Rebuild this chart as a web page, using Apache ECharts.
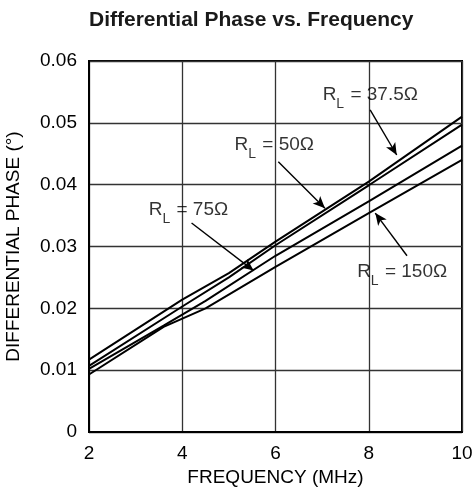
<!DOCTYPE html>
<html>
<head>
<meta charset="utf-8">
<script src="https://cdn.jsdelivr.net/npm/echarts@6/dist/echarts.min.js"></script>
<style>html,body{margin:0;padding:0;background:#fff;}#c{width:472px;height:496px;}</style>
</head>
<body>
<div id="c"></div>
<script>
// ---- data ----
const xTicks = [2, 4, 6, 8, 10];
const yTicks = [0, 0.01, 0.02, 0.03, 0.04, 0.05, 0.06];
const rl375 = [[2,0.0117],[4,0.0214],[5,0.0257],[6,0.0308],[8,0.0405],[10,0.0510]];
const rl50  = [[2,0.0107],[4,0.0203],[5,0.0250],[6,0.0302],[8,0.0399],[10,0.0497]];
const rl75  = [[2,0.0102],[3.6,0.0172],[4.5,0.0212],[6,0.0285],[8,0.0373],[10,0.0463]];
const rl150 = [[2,0.0093],[3.6,0.0170],[4.5,0.0200],[6,0.0267],[8,0.0354],[10,0.0440]];
const labelText = ['37.5Ω', '50Ω', '75Ω', '150Ω'];
const labelPos  = [[7.0,0.0545],[5.11,0.0464],[3.27,0.0359],[7.74,0.0259]];
const arrowFrom = [[8.03,0.0521],[6.06,0.0437],[4.20,0.0338],[8.82,0.0285]];
const arrowTo   = [[8.60,0.0448],[7.06,0.0362],[5.53,0.0261],[8.14,0.0354]];

const FONT = '"Liberation Sans", Arial, sans-serif';
const chart = echarts.init(document.getElementById('c'));

function lineSeries(name, data) {
  return {
    name: name, type: 'line', data: data, symbol: 'none', smooth: false,
    lineStyle: { color: '#000', width: 2 }, silent: true, z: 3
  };
}

chart.setOption({
  animation: false,
  backgroundColor: '#fff',
  title: {
    text: 'Differential Phase vs. Frequency',
    left: 89, top: 10, padding: 0,
    textStyle: { fontFamily: FONT, fontSize: 21, fontWeight: 'bold', color: '#1a1a1a' }
  },
  grid: {
    left: 89, right: 10, top: 61, bottom: 64,
    outerBoundsMode: 'none', containLabel: false,
    show: true, borderColor: '#000', borderWidth: 2, backgroundColor: 'transparent'
  },
  xAxis: {
    type: 'value', min: 2, max: 10, interval: 2,
    name: 'FREQUENCY (MHz)', nameLocation: 'middle', nameGap: 36,
    nameTextStyle: { fontFamily: FONT, fontSize: 19, color: '#000' },
    axisLine: { show: true, lineStyle: { color: '#000', width: 2 } },
    axisTick: { show: false },
    axisLabel: { margin: 12, fontFamily: FONT, fontSize: 19, color: '#000',
      formatter: v => xTicks.indexOf(v) >= 0 ? String(v) : '' },
    splitLine: { show: true, lineStyle: { color: '#333', width: 1.3 } }
  },
  yAxis: {
    type: 'value', min: 0, max: 0.06, interval: 0.01,
    name: 'DIFFERENTIAL PHASE (°)', nameLocation: 'middle', nameGap: 66,
    nameTextStyle: { fontFamily: FONT, fontSize: 19, color: '#000' },
    axisLine: { show: true, lineStyle: { color: '#000', width: 2 } },
    axisTick: { show: false },
    axisLabel: { margin: 12, fontFamily: FONT, fontSize: 19, color: '#000',
      formatter: v => {
        const t = yTicks.find(y => Math.abs(y - v) < 1e-9);
        if (t === undefined) return '';
        return t === 0 ? '0' : t.toFixed(2);
      } },
    splitLine: { show: true, lineStyle: { color: '#333', width: 1.3 } }
  },
  series: [
    lineSeries('RL=37.5', rl375),
    lineSeries('RL=50', rl50),
    lineSeries('RL=75', rl75),
    lineSeries('RL=150', rl150),
    {
      type: 'scatter', name: 'labels', silent: true, z: 5,
      symbolSize: 1, itemStyle: { color: 'rgba(0,0,0,0)' },
      data: labelPos.map((p, i) => [p[0], p[1], i]),
      label: {
        show: true, position: 'right', distance: 0,
        formatter: p => '{r|R}{s|L}{r| = ' + labelText[p.data[2]] + '}',
        rich: {
          r: { fontFamily: FONT, fontSize: 19, color: '#000' },
          s: { fontFamily: FONT, fontSize: 14, color: '#000', padding: [19, 1, 0, 0] }
        }
      },
      markLine: {
        silent: true, animation: false,
        symbol: ['none', 'arrow'], symbolSize: [8, 12],
        lineStyle: { color: '#000', width: 1.4, type: 'solid' },
        label: { show: false },
        data: arrowFrom.map((a, i) => [{ coord: a }, { coord: arrowTo[i] }])
      }
    }
  ]
});
</script>
</body>
</html>
